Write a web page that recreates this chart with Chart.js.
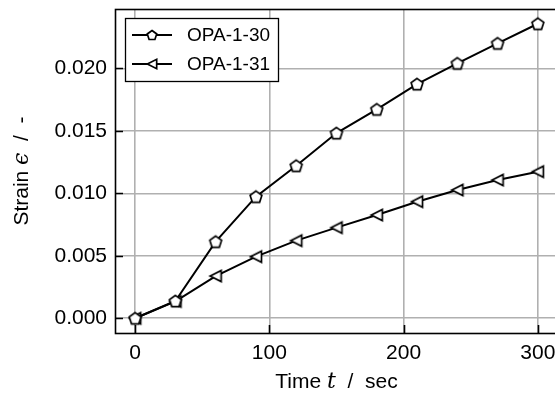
<!DOCTYPE html>
<html>
<head>
<meta charset="utf-8">
<script src="https://cdn.jsdelivr.net/npm/chart.js@4/dist/chart.umd.min.js"></script>
<style>
  html, body { margin: 0; padding: 0; background: #fff; overflow: hidden; }
  #wrap { position: relative; width: 565px; height: 400px; }
</style>
</head>
<body>
<div id="wrap"><canvas id="chart"></canvas></div>
<script>
// data
const times = [0, 30, 60, 90, 120, 150, 180, 210, 240, 270, 300];
const strainOpa130 = [0.0000, 0.00138, 0.00613, 0.00973, 0.01221, 0.01482, 0.01672, 0.01874, 0.02040, 0.02200, 0.02357];
const strainOpa131 = [0.0000, 0.00135, 0.00338, 0.00493, 0.00621, 0.00725, 0.00826, 0.00933, 0.01026, 0.01106, 0.01173];
const seriesNames = ['OPA-1-30', 'OPA-1-31'];
const xTicks = [0, 100, 200, 300];
const yTicks = [0.000, 0.005, 0.010, 0.015, 0.020];

const FONT = 'Liberation Sans';
const TICK_SIZE = 21;
const LEGEND_SIZE = 19;

// marker images (pentagon and left triangle), white fill, black edge
function makeMarker(kind, s) {
    const c = document.createElement('canvas');
    c.width = 16; c.height = 16;
    const g = c.getContext('2d');
    g.translate(8, 8);
    g.scale(s, s);
    g.beginPath();
    if (kind === 'pentagon') {
        const r = 6.2;
        for (let i = 0; i < 5; i++) {
            const a = -Math.PI / 2 + i * 2 * Math.PI / 5;
            const px = r * Math.cos(a), py = 0.6 + r * Math.sin(a);
            i === 0 ? g.moveTo(px, py) : g.lineTo(px, py);
        }
    } else {
        g.moveTo(-5.5, 0);
        g.lineTo(5.5, -5.5);
        g.lineTo(5.5, 5.5);
    }
    g.closePath();
    g.fillStyle = '#fff';
    g.fill();
    g.lineWidth = 1.7 / s;
    g.strokeStyle = '#000';
    g.stroke();
    return c;
}
const pentagon = makeMarker('pentagon', 1);
const triLeft = makeMarker('triangle', 1);
const legendMarkers = [makeMarker('pentagon', 0.8), makeMarker('triangle', 0.85)];

function toPoints(ys) {
    return times.map((t, i) => ({ x: t, y: ys[i] }));
}

// legend box, inward ticks, frame and mixed-font axis titles
const decorations = {
    id: 'decorations',
    afterDraw(chart) {
        const ctx = chart.ctx;
        const area = chart.chartArea;
        const xs = chart.scales.x, ys = chart.scales.y;
        ctx.save();

        // inward ticks
        ctx.strokeStyle = '#000';
        ctx.lineWidth = 1.6;
        ctx.beginPath();
        xTicks.forEach(v => {
            const px = Math.round(xs.getPixelForValue(v)) + 0.5;
            ctx.moveTo(px, area.bottom);
            ctx.lineTo(px, area.bottom - 8);
        });
        yTicks.forEach(v => {
            const py = Math.round(ys.getPixelForValue(v)) + 0.5;
            ctx.moveTo(area.left, py);
            ctx.lineTo(area.left + 8, py);
        });
        ctx.stroke();

        // frame
        ctx.lineWidth = 1.6;
        ctx.strokeRect(area.left + 0.5, area.top + 0.5, area.right - area.left, area.bottom - area.top);

        // legend
        const lx = 125, ly = 18, lw = 153, lh = 63;
        ctx.fillStyle = '#fff';
        ctx.fillRect(lx, ly, lw, lh);
        ctx.lineWidth = 1.3;
        ctx.strokeStyle = '#000';
        ctx.strokeRect(lx + 0.5, ly + 0.5, lw, lh);
        ctx.font = LEGEND_SIZE + 'px "' + FONT + '"';
        ctx.textBaseline = 'middle';
        ctx.textAlign = 'left';
        seriesNames.forEach((name, i) => {
            const cy = 35 + i * 29;
            ctx.beginPath();
            ctx.lineWidth = 2;
            ctx.moveTo(132, cy);
            ctx.lineTo(172, cy);
            ctx.stroke();
            ctx.drawImage(legendMarkers[i], 152 - 8, cy - 8);
            ctx.fillStyle = '#000';
            ctx.fillText(name, 187, cy + 1);
        });

        // axis titles with italic math symbols
        function mixed(parts, cx, cy) {
            let total = 0;
            parts.forEach(p => { ctx.font = p[1]; total += ctx.measureText(p[0]).width; });
            let x = cx - total / 2;
            parts.forEach(p => {
                ctx.font = p[1];
                ctx.fillText(p[0], x, cy);
                x += ctx.measureText(p[0]).width;
            });
        }
        const plain = TICK_SIZE + 'px "' + FONT + '"';
        const ital = 'italic ' + (TICK_SIZE + 1) + 'px "DejaVu Serif"';
        ctx.fillStyle = '#000';
        ctx.textBaseline = 'middle';
        ctx.textAlign = 'left';
        mixed([['Time ', plain], ['t', ital], ['  /  sec', plain]], (area.left + area.right) / 2, 382);

        ctx.translate(22, (area.top + area.bottom) / 2);
        ctx.rotate(-Math.PI / 2);
        mixed([['Strain ', plain], ['\u03F5', ital], ['  /  -', plain]], 0, 0);

        ctx.restore();
    }
};

new Chart(document.getElementById('chart'), {
    type: 'line',
    data: {
        datasets: [
            {
                label: seriesNames[0],
                data: toPoints(strainOpa130),
                borderColor: '#000',
                borderWidth: 2,
                pointStyle: pentagon,
                tension: 0
            },
            {
                label: seriesNames[1],
                data: toPoints(strainOpa131),
                borderColor: '#000',
                borderWidth: 2,
                pointStyle: triLeft,
                tension: 0
            }
        ]
    },
    options: {
        responsive: true,
        maintainAspectRatio: false,
        animation: false,
        layout: { padding: { left: 0, right: 7, top: 9, bottom: 0 } },
        plugins: {
            legend: { display: false },
            tooltip: { enabled: false }
        },
        scales: {
            x: {
                type: 'linear',
                min: -15,
                max: 315,
                afterBuildTicks: scale => { scale.ticks = xTicks.map(v => ({ value: v })); },
                afterFit: scale => {
                    scale.height = 67;
                    scale.paddingLeft = 0;
                    scale.paddingRight = 0;
                },
                grid: { color: '#b0b0b0', lineWidth: 1.6, drawTicks: false },
                border: { display: false },
                ticks: {
                    padding: 8,
                    color: '#000',
                    font: { family: FONT, size: TICK_SIZE },
                    maxRotation: 0,
                    callback: v => String(v)
                }
            },
            y: {
                type: 'linear',
                min: -0.0011785,
                max: 0.0247485,
                afterBuildTicks: scale => { scale.ticks = yTicks.map(v => ({ value: v })); },
                afterFit: scale => {
                    scale.width = 115;
                    scale.paddingTop = 0;
                    scale.paddingBottom = 0;
                },
                grid: { color: '#b0b0b0', lineWidth: 1.6, drawTicks: false },
                border: { display: false },
                ticks: {
                    padding: 8,
                    color: '#000',
                    font: { family: FONT, size: TICK_SIZE },
                    callback: v => v.toFixed(3)
                }
            }
        }
    },
    plugins: [decorations]
});
</script>
</body>
</html>
